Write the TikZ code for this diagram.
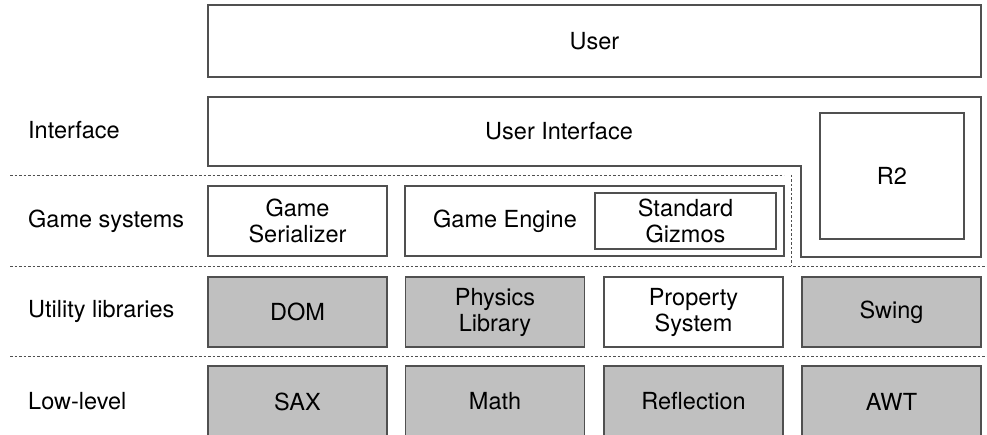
\documentclass[tikz,border=0pt]{standalone}
\usepackage{fontspec}
\setmainfont{TeX Gyre Heros}
\usetikzlibrary{positioning}
\definecolor{libgray}{HTML}{C0C0C0}
\definecolor{edgegray}{HTML}{505050}

\begin{document}
\begin{tikzpicture}[x=1pt, y=-1pt,
  every node/.style={font=\fontsize{23.5}{26}\selectfont},
  box/.style={draw=edgegray, line width=1.1pt, align=center, inner sep=0pt},
  cell/.style={box, minimum width=179pt, minimum height=70pt},
  libcell/.style={cell, fill=libgray},
  sep/.style={draw=edgegray, line width=0.8pt, dash pattern=on 2.5pt off 2pt},
  layer/.style={anchor=west, inner sep=0pt}]
  \useasboundingbox (0,0) rectangle (987,435);
  \clip (0,0) rectangle (987,435);

  % User
  \node[box, minimum width=773pt, minimum height=72pt] (user) at (594.5,41) {User};

  % Interface
  \node[layer] (lint) at (28,130) {Interface};
  \draw[draw=edgegray, line width=1.1pt] (208,97) -- (981,97) -- (981,257) -- (801,257)
    -- (801,166) -- (208,166) -- cycle;
  \node (ui) at (559,131) {User Interface};
  \node[box, minimum width=144pt, minimum height=126pt] (r2) at (892,176) {R2};

  \draw[sep] (10,175) -- (784,175);
  \draw[sep] (791,175) -- (791,266);

  % Game systems
  \node[layer] (lgame) at (28,221) {Game systems};
  \node[cell] (ser) at (297.5,221) {Game\\Serializer};
  \node[box, minimum width=379pt, minimum height=70pt] (engine) at (594.5,221) {};
  \node (engtext) at (505,221) {Game Engine};
  \node[box, minimum width=181pt, minimum height=56pt] (gizmos) at (685.5,221) {Standard\\Gizmos};

  \draw[sep] (10,266) -- (987,266);

  % Utility libraries
  \node[layer] (lutil) at (28,311) {Utility libraries};
  \node[libcell] (dom) at (297.5,312) {DOM};
  \node[libcell] (phys) at (495,312) {Physics\\Library};
  \node[cell] (prop) at (693.5,312) {Property\\System};
  \node[libcell] (swing) at (891.5,312) {Swing};

  \draw[sep] (10,356) -- (987,356);

  % Low-level
  \node[layer] (llow) at (28,401) {Low-level};
  \node[libcell, minimum height=71pt] (sax) at (297.5,401.5) {SAX};
  \node[libcell, minimum height=71pt] (math) at (495,401.5) {Math};
  \node[libcell, minimum height=71pt] (refl) at (693.5,401.5) {Reflection};
  \node[libcell, minimum height=71pt] (awt) at (891.5,401.5) {AWT};
\end{tikzpicture}
\end{document}
